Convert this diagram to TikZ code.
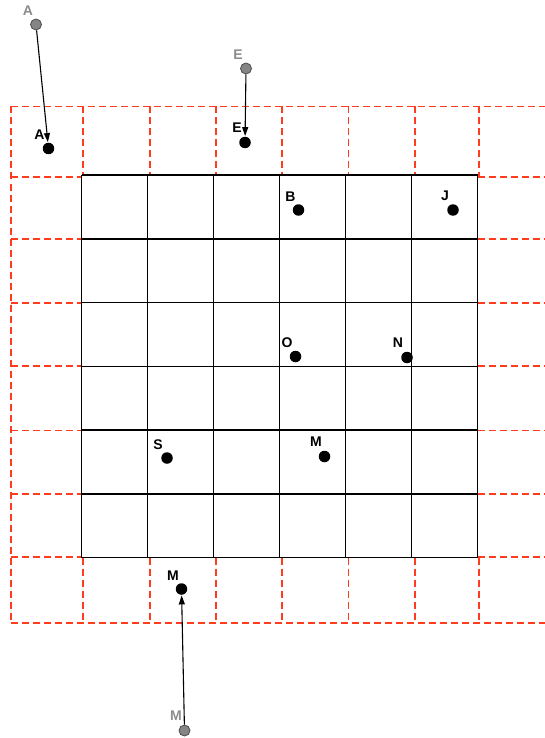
\documentclass[tikz,border=0pt]{standalone}
\usepackage{fontspec}
\setmainfont{Liberation Sans}
\usetikzlibrary{arrows.meta}
\definecolor{gridred}{RGB}{255,60,30}
\definecolor{ghost}{RGB}{140,140,140}
\tikzset{
  redgrid/.style={draw=gridred, line width=1.7pt, dash pattern=on 7pt off 4pt},
  blackgrid/.style={draw=black, line width=1.5pt},
  dot/.style={circle, fill=black, inner sep=0pt, minimum size=11.5pt},
  gdot/.style={circle, fill=ghost!95!black, draw=black!70, line width=0.8pt, inner sep=0pt, minimum size=11pt},
  lbl/.style={font=\bfseries\fontsize{14}{15}\selectfont, text=black, inner sep=0pt},
  glbl/.style={lbl, text=ghost},
  arr/.style={draw=black, line width=1.1pt, -{Triangle[length=9pt,width=6pt]}, shorten >=0.5pt}
}
\begin{document}
\begin{tikzpicture}[x=1pt,y=-1pt]
\useasboundingbox (0,0) rectangle (545,738);
% red dashed outer ring
\draw[redgrid] (11,106.5) -- (545,106.5);
\draw[redgrid] (11,622.7) -- (545,622.7);
\draw[redgrid] (11,106.5) -- (11,622.7);
\foreach \x in {82.7,150,216,282.3,348.5,415,479}{
  \draw[redgrid] (\x,106.5) -- (\x,176);
  \draw[redgrid] (\x,557.5) -- (\x,622.7);
}
\foreach \y in {177,239,302.7,366,430.5,494,557}{
  \draw[redgrid] (11,\y) -- (81.7,\y);
  \draw[redgrid] (477.7,\y) -- (545,\y);
}
% black grid
\foreach \i in {0,...,6}{
  \draw[blackgrid] (81.7+66*\i,175) -- (81.7+66*\i,557.5);
  \draw[blackgrid] (81.7,175+63.75*\i) -- (477.7,175+63.75*\i);
}
% dots
\node[dot] (A) at (48.5,148.5) {};
\node[dot] (E) at (245,142.5) {};
\node[dot] (B) at (298.5,210) {};
\node[dot] (J) at (453,210) {};
\node[dot] (O) at (295.5,356.5) {};
\node[dot] (N) at (407,357.5) {};
\node[dot] (M) at (324.5,456.5) {};
\node[dot] (S) at (167,458) {};
\node[dot] (Mb) at (181.5,589) {};
\node[lbl] (Al) at (39.5,135) {A};
\node[lbl] (El) at (237,128) {E};
\node[lbl] (Bl) at (290.5,197) {B};
\node[lbl] (Jl) at (445,196) {J};
\node[lbl] (Ol) at (287,342.5) {O};
\node[lbl] (Nl) at (398,343) {N};
\node[lbl] (Ml) at (316,442) {M};
\node[lbl] (Sl) at (158,444.5) {S};
\node[lbl] (Mbl) at (173,576) {M};
% ghost dots
\node[gdot] (A0) at (36,24.5) {};
\node[gdot] (E0) at (246,68.5) {};
\node[gdot] (M0) at (184.5,730.5) {};
\node[glbl] (A0l) at (28,10.5) {A};
\node[glbl] (E0l) at (238,55) {E};
\node[glbl] (M0l) at (176,715.5) {M};
% arrows
\draw[arr] (A0) -- (A);
\draw[arr] (E0) -- (E);
\draw[arr] (M0) -- (Mb);
\end{tikzpicture}
\end{document}
